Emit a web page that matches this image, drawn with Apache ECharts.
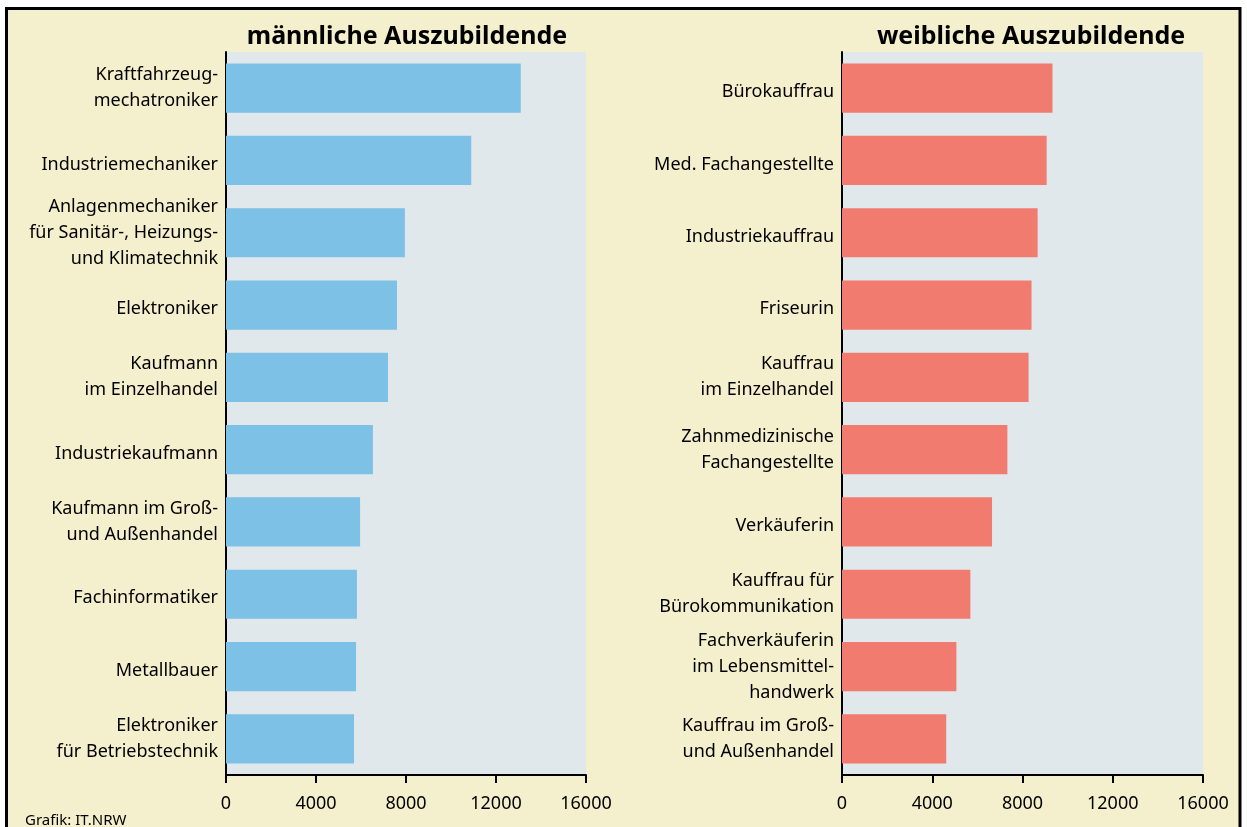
<!DOCTYPE html>
<html><head><meta charset="utf-8">
<script src="https://cdn.jsdelivr.net/npm/echarts@6/dist/echarts.min.js"></script>
<style>html,body{margin:0;padding:0;background:#fff;}#c{width:1247px;height:827px;}</style>
</head><body><div id="c"></div>
<script>
const maleCategories = ["Kraftfahrzeug-\nmechatroniker","Industriemechaniker","Anlagenmechaniker\nfür Sanitär-, Heizungs-\nund Klimatechnik","Elektroniker","Kaufmann\nim Einzelhandel","Industriekaufmann","Kaufmann im Groß-\nund Außenhandel","Fachinformatiker","Metallbauer","Elektroniker\nfür Betriebstechnik"];
const maleValues = [13100, 10900, 7950, 7600, 7200, 6530, 5960, 5820, 5780, 5690];
const femaleCategories = ["Bürokauffrau","Med. Fachangestellte","Industriekauffrau","Friseurin","Kauffrau\nim Einzelhandel","Zahnmedizinische\nFachangestellte","Verkäuferin","Kauffrau für\nBürokommunikation","Fachverkäuferin\nim Lebensmittel-\nhandwerk","Kauffrau im Groß-\nund Außenhandel"];
const femaleValues = [9330, 9070, 8670, 8400, 8270, 7330, 6650, 5690, 5070, 4620];
const xTicks = [0, 4000, 8000, 12000, 16000];
const titles = ["männliche Auszubildende","weibliche Auszubildende"];

const FONT = "Noto Sans";
const chart = echarts.init(document.getElementById('c'), null, {renderer:'canvas'});
function xAxis(i){
  return {gridIndex:i, type:'value', min:xTicks[0], max:xTicks[xTicks.length-1], interval:xTicks[1]-xTicks[0],
    splitLine:{show:false},
    axisLine:{show:true, lineStyle:{color:'#000', width:2}},
    axisTick:{show:true, length:8, lineStyle:{color:'#000', width:2}},
    axisLabel:{color:'#000', fontFamily:FONT, fontSize:18, margin:20, formatter:v=>String(v)}};
}
function yAxis(i, cats){
  return {gridIndex:i, type:'category', data:cats, inverse:true,
    axisLine:{show:true, lineStyle:{color:'#000', width:2}},
    axisTick:{show:false},
    axisLabel:{color:'#000', fontFamily:FONT, fontSize:18, lineHeight:26, margin:8, align:'right',
      formatter:v=>v.indexOf('\n')>=0 ? v : '{s|'+v+'}',
      rich:{s:{color:'#000', fontFamily:FONT, fontSize:18, lineHeight:26, padding:[8,0,0,0]}}}};
}
chart.setOption({
  backgroundColor:'#ffffff',
  animation:false,
  graphic:[
    {type:'rect', z:-10, shape:{x:6.5,y:8.5,width:1233.5,height:830}, style:{fill:'#F4EFCC', stroke:'#000', lineWidth:3}},
    {type:'text', left:25, top:813, style:{text:'Grafik: IT.NRW', fill:'#000', font:'15px "Noto Sans"'}}
  ],
  title:[
    {text:titles[0], left:402, top:19, textAlign:'center', textStyle:{fontFamily:FONT, fontWeight:'bold', fontSize:25, color:'#000'}},
    {text:titles[1], left:1026, top:19, textAlign:'center', textStyle:{fontFamily:FONT, fontWeight:'bold', fontSize:25, color:'#000'}}
  ],
  grid:[
    {left:226, right:661, top:52, bottom:52, show:true, backgroundColor:'#E0E8EC', borderWidth:0},
    {left:842, right:44, top:52, bottom:52, show:true, backgroundColor:'#E0E8EC', borderWidth:0}
  ],
  xAxis:[xAxis(0), xAxis(1)],
  yAxis:[yAxis(0, maleCategories), yAxis(1, femaleCategories)],
  series:[
    {type:'bar', xAxisIndex:0, yAxisIndex:0, data:maleValues, barCategoryGap:'32%', itemStyle:{color:'#7DC1E6'}},
    {type:'bar', xAxisIndex:1, yAxisIndex:1, data:femaleValues, barCategoryGap:'32%', itemStyle:{color:'#F27B70'}}
  ]
});
</script></body></html>
